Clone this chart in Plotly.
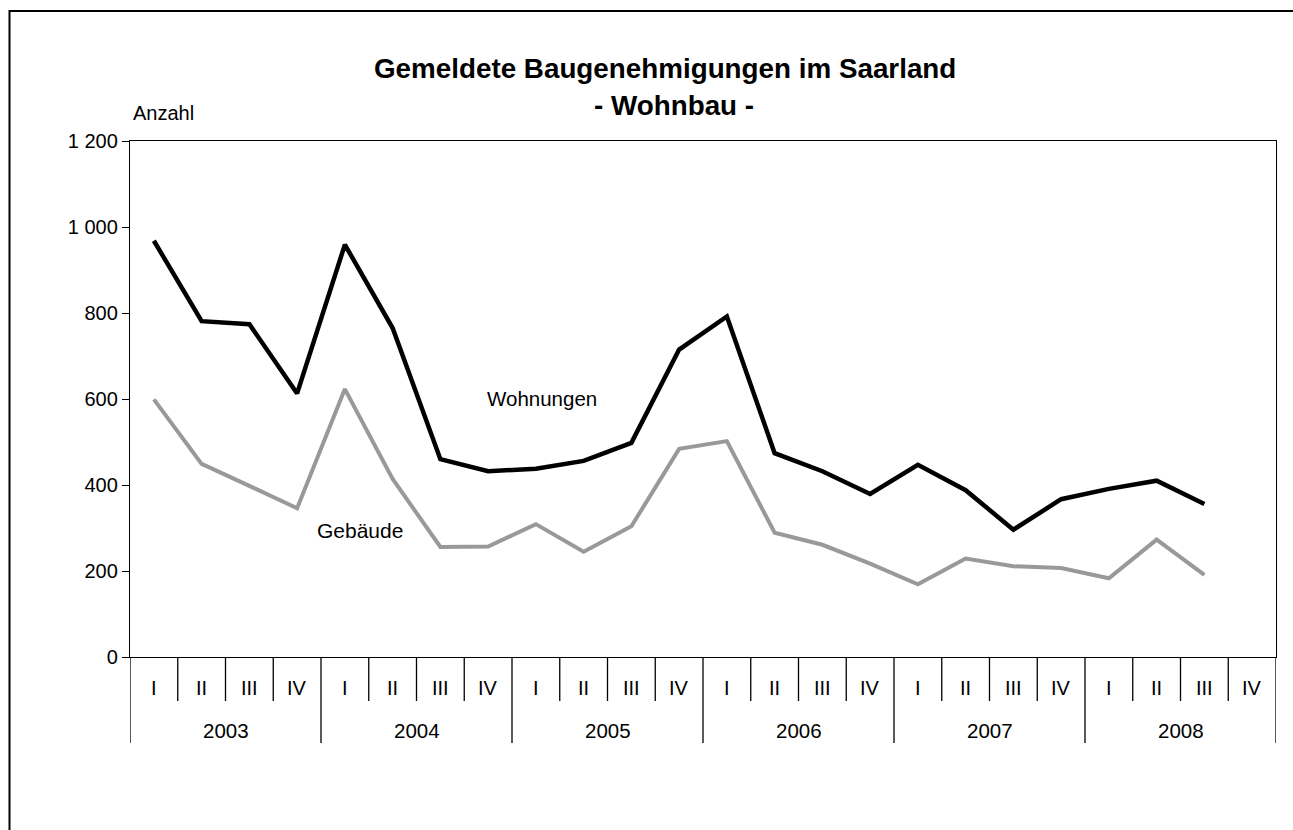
import plotly.graph_objects as go

# ---- data ----
years = ["2003", "2004", "2005", "2006", "2007", "2008"]
quarters = ["I", "II", "III", "IV"]
wohnungen = [968, 781, 774, 613, 959, 765, 460, 432, 438, 456, 498, 715,
             792, 474, 432, 379, 447, 388, 296, 367, 391, 410, 356, None]
gebaeude = [599, 449, 398, 346, 623, 414, 256, 257, 309, 245, 304, 484,
            502, 289, 261, 217, 169, 229, 211, 207, 183, 273, 191, None]
y_ticks = [0, 200, 400, 600, 800, 1000, 1200]

title_line1 = "Gemeldete Baugenehmigungen im Saarland"
title_line2 = "- Wohnbau -"
y_label = "Anzahl"
series_names = ["Wohnungen", "Gebäude"]

# ---- layout geometry (pixels) ----
W, H = 1293, 830
L, R, T, B = 130, 17, 141, 173
PW, PH = W - L - R, H - T - B
FONT = "Liberation Sans, Arial, sans-serif"


def px_x(px):
    return (px - L) / PW


def px_y(py):
    return (H - B - py) / PH


n = len(years) * len(quarters)
xs = list(range(n))

fig = go.Figure()
fig.add_trace(go.Scatter(x=xs, y=gebaeude, mode="lines", name=series_names[1],
                         line=dict(color="#999999", width=4), connectgaps=False,
                         hoverinfo="skip"))
fig.add_trace(go.Scatter(x=xs, y=wohnungen, mode="lines", name=series_names[0],
                         line=dict(color="#000000", width=4.5), connectgaps=False,
                         hoverinfo="skip"))

annotations = []
# title
annotations.append(dict(text="<b>" + title_line1 + "</b>", x=px_x(664.5), y=px_y(69),
                        xref="paper", yref="paper", showarrow=False,
                        xanchor="center", yanchor="middle",
                        font=dict(family=FONT, size=27.8, color="black")))
annotations.append(dict(text="<b>" + title_line2 + "</b>", x=px_x(674), y=px_y(105),
                        xref="paper", yref="paper", showarrow=False,
                        xanchor="center", yanchor="middle",
                        font=dict(family=FONT, size=27.8, color="black")))
# axis unit label
annotations.append(dict(text=y_label, x=px_x(163), y=px_y(113),
                        xref="paper", yref="paper", showarrow=False,
                        xanchor="center", yanchor="middle",
                        font=dict(family=FONT, size=20, color="black")))
# series labels
annotations.append(dict(text=series_names[0], x=px_x(542), y=px_y(398),
                        xref="paper", yref="paper", showarrow=False,
                        xanchor="center", yanchor="middle",
                        font=dict(family=FONT, size=20.5, color="black")))
annotations.append(dict(text=series_names[1], x=px_x(360), y=px_y(530),
                        xref="paper", yref="paper", showarrow=False,
                        xanchor="center", yanchor="middle",
                        font=dict(family=FONT, size=21, color="black")))

shapes = []
# quarter & year labels and dividers
for yi, yr in enumerate(years):
    for qi, q in enumerate(quarters):
        idx = yi * len(quarters) + qi
        annotations.append(dict(text=q, x=idx, y=px_y(688), xref="x", yref="paper",
                                showarrow=False, xanchor="center", yanchor="middle",
                                font=dict(family=FONT, size=20, color="black")))
    mid = yi * len(quarters) + (len(quarters) - 1) / 2
    annotations.append(dict(text=yr, x=mid, y=px_y(730), xref="x", yref="paper",
                            showarrow=False, xanchor="center", yanchor="middle",
                            font=dict(family=FONT, size=20.5, color="black")))

for b in range(n + 1):
    is_year = (b % len(quarters) == 0)
    shapes.append(dict(type="line", xref="x", yref="paper",
                       x0=b - 0.5, x1=b - 0.5, y0=0,
                       y1=px_y(743) if is_year else px_y(701),
                       line=dict(color="black", width=1.3)))

# outer frame (extends beyond right/bottom edge)
shapes.append(dict(type="rect", xref="paper", yref="paper",
                   x0=px_x(9.5), x1=px_x(W + 10), y0=px_y(H + 10), y1=px_y(11),
                   line=dict(color="black", width=2), fillcolor="rgba(0,0,0,0)",
                   layer="below"))

fig.update_layout(
    width=W, height=H,
    margin=dict(l=L, r=R, t=T, b=B, pad=0),
    paper_bgcolor="white", plot_bgcolor="white",
    showlegend=False,
    separators=", ",
    font=dict(family=FONT, size=20, color="black"),
    annotations=annotations,
    shapes=shapes,
)
fig.update_xaxes(range=[-0.5, n - 0.5], showticklabels=False, ticks="",
                 showgrid=False, zeroline=False, showline=True, mirror=True,
                 linecolor="black", linewidth=1.3)
fig.update_yaxes(range=[0, 1200], tickvals=y_ticks, tickformat=",d",
                 separatethousands=True, ticks="outside", ticklen=7,
                 tickcolor="black", tickwidth=1.3, showgrid=False, zeroline=False,
                 showline=True, mirror=True, linecolor="black", linewidth=1.3,
                 tickfont=dict(family=FONT, size=20, color="black"))

fig.write_html(
    "out.html",
    config={"displayModeBar": False},
    post_script="document.body.style.margin='0px';document.body.style.overflow='hidden';",
)
